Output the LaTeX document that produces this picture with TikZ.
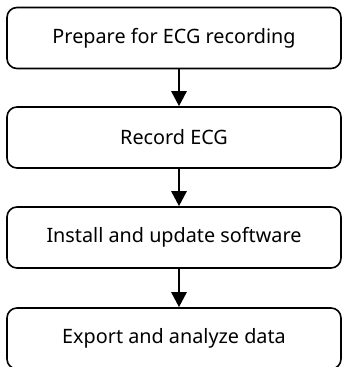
\documentclass[tikz,border=0pt]{standalone}
\usepackage{fontspec}
\setmainfont{Noto Sans}
\usetikzlibrary{arrows.meta}
\tikzset{
  stepbox/.style={draw=black, line width=1.6pt, rounded corners=10pt,
    minimum width=334pt, minimum height=61pt, inner sep=0pt,
    font=\fontsize{19.8}{23}\selectfont, text=black},
  flowarrow/.style={draw=black, line width=2.6pt,
    -{Triangle[width=15pt,length=15pt]}}
}
\begin{document}
\begin{tikzpicture}[x=1pt,y=1pt]
  \useasboundingbox (0,0) rectangle (342,367);
  \node[stepbox] (prep)    at (174,329)   {Prepare for ECG recording};
  \node[stepbox] (rec)     at (174,229.5) {Record ECG};
  \node[stepbox] (inst)    at (174,129.5) {Install and update software};
  \node[stepbox] (export)  at (174,28.5)  {Export and analyze data};
  \draw[flowarrow] ([xshift=5pt]prep.south)  -- ([xshift=5pt]rec.north);
  \draw[flowarrow] ([xshift=5pt]rec.south)   -- ([xshift=5pt]inst.north);
  \draw[flowarrow] ([xshift=5pt]inst.south)  -- ([xshift=5pt]export.north);
\end{tikzpicture}
\end{document}
